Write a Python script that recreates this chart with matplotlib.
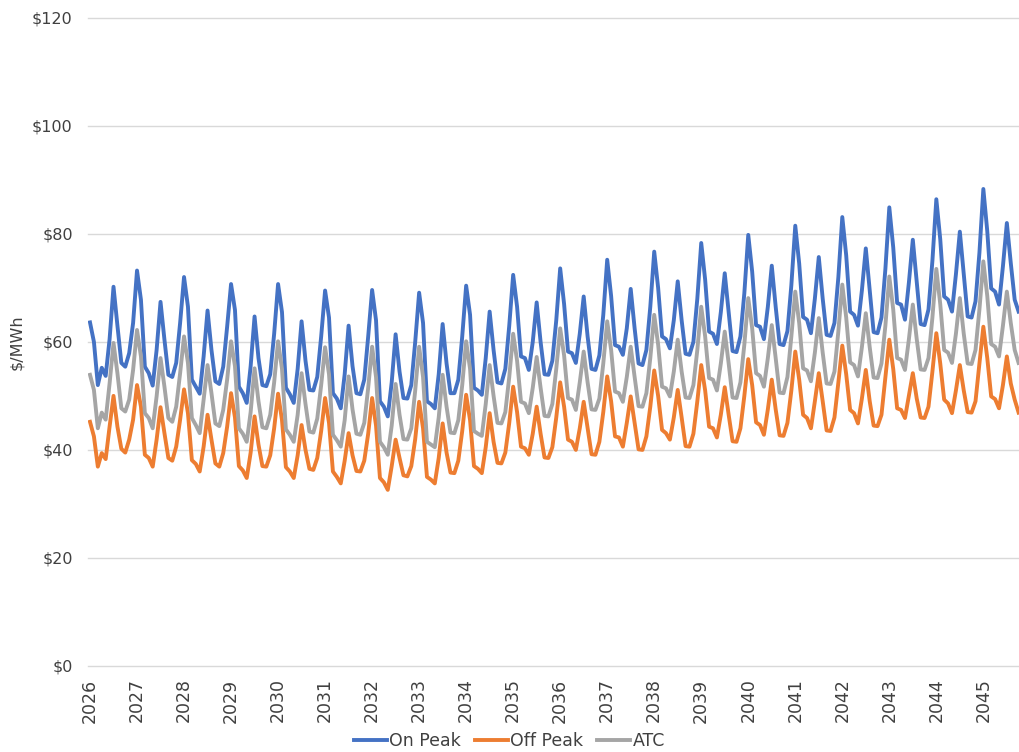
import numpy as np
import matplotlib
matplotlib.use("Agg")
import matplotlib.pyplot as plt

# Monthly price forecast, Jan 2026 - Oct 2045 ($/MWh), one row per year
on_peak = [
    63.6, 60.0, 52.0, 55.2, 53.7, 60.5, 70.2, 63.0, 56.1, 55.4, 57.9, 63.5,  # 2026
    73.2, 67.8, 55.4, 54.2, 51.9, 58.5, 67.4, 60.4, 53.9, 53.5, 56.1, 63.5,  # 2027
    72.0, 66.5, 53.0, 51.7, 50.4, 57.3, 65.8, 58.5, 52.7, 52.2, 55.4, 62.8,  # 2028
    70.7, 65.9, 51.7, 50.5, 48.7, 55.5, 64.7, 57.0, 52.0, 51.8, 54.0, 61.5,  # 2029
    70.7, 65.5, 51.5, 50.3, 48.7, 55.0, 63.8, 56.5, 51.1, 51.0, 53.5, 61.0,  # 2030
    69.5, 64.5, 50.5, 49.5, 47.7, 54.0, 63.0, 55.5, 50.5, 50.3, 53.0, 61.0,  # 2031
    69.6, 64.0, 49.0, 48.0, 46.2, 52.5, 61.4, 54.5, 49.6, 49.5, 52.0, 60.0,  # 2032
    69.1, 63.5, 49.0, 48.5, 47.7, 54.0, 63.3, 56.0, 50.5, 50.5, 53.0, 61.0,  # 2033
    70.4, 65.0, 51.5, 51.0, 50.2, 57.0, 65.6, 58.5, 52.5, 52.3, 55.0, 63.0,  # 2034
    72.4, 66.5, 57.3, 57.0, 54.8, 60.0, 67.3, 60.0, 54.0, 53.9, 56.5, 64.0,  # 2035
    73.6, 67.0, 58.2, 57.9, 56.1, 61.5, 68.4, 61.0, 55.0, 54.8, 57.5, 65.0,  # 2036
    75.2, 68.5, 59.4, 59.1, 57.6, 62.5, 69.8, 62.5, 56.0, 55.7, 58.5, 66.5,  # 2037
    76.7, 70.0, 61.0, 60.5, 58.8, 64.0, 71.2, 64.0, 57.8, 57.6, 60.0, 68.0,  # 2038
    78.3, 71.5, 61.9, 61.5, 59.6, 65.5, 72.7, 65.5, 58.3, 58.1, 61.0, 69.0,  # 2039
    79.8, 73.0, 63.1, 62.8, 60.5, 66.5, 74.1, 66.5, 59.6, 59.4, 62.0, 70.5,  # 2040
    81.5, 74.5, 64.6, 64.1, 61.6, 68.0, 75.7, 68.0, 61.3, 61.1, 63.5, 72.0,  # 2041
    83.1, 76.0, 65.6, 65.0, 63.0, 69.5, 77.3, 69.5, 61.8, 61.6, 64.5, 73.5,  # 2042
    84.9, 77.5, 67.2, 66.9, 64.1, 71.0, 78.9, 71.0, 63.3, 63.1, 66.0, 75.0,  # 2043
    86.4, 79.0, 68.4, 67.8, 65.6, 72.5, 80.4, 72.5, 64.7, 64.5, 67.5, 76.5,  # 2044
    88.3, 80.5, 69.9, 69.3, 66.9, 74.0, 82.0, 74.6, 67.8, 65.6,              # 2045
]

off_peak = [
    45.2, 42.5, 36.9, 39.4, 38.3, 44.3, 50.0, 44.3, 40.2, 39.5, 41.9, 45.6,  # 2026
    52.0, 48.0, 39.1, 38.5, 36.9, 41.9, 47.9, 43.1, 38.5, 38.0, 40.6, 45.6,  # 2027
    51.2, 46.8, 38.1, 37.4, 36.0, 40.6, 46.5, 41.9, 37.5, 36.9, 39.4, 44.3,  # 2028
    50.5, 46.0, 37.0, 36.2, 34.8, 39.5, 46.2, 41.0, 37.0, 36.9, 39.0, 44.0,  # 2029
    50.4, 45.5, 36.8, 36.0, 34.8, 39.0, 44.6, 40.0, 36.5, 36.3, 38.5, 43.5,  # 2030
    49.6, 45.0, 36.0, 35.0, 33.8, 38.0, 43.1, 39.0, 36.1, 36.0, 38.0, 43.0,  # 2031
    49.6, 44.5, 34.8, 34.0, 32.6, 37.0, 41.9, 38.5, 35.3, 35.1, 37.0, 42.0,  # 2032
    48.9, 44.0, 35.0, 34.5, 33.8, 38.5, 44.9, 39.5, 35.8, 35.7, 38.0, 43.5,  # 2033
    50.2, 45.5, 37.0, 36.5, 35.7, 40.5, 46.8, 41.5, 37.6, 37.5, 39.5, 45.0,  # 2034
    51.7, 47.0, 40.6, 40.3, 39.1, 43.0, 48.0, 43.0, 38.6, 38.5, 40.5, 46.0,  # 2035
    52.5, 48.0, 41.9, 41.5, 40.0, 44.0, 48.9, 44.0, 39.2, 39.1, 41.5, 47.0,  # 2036
    53.6, 49.0, 42.5, 42.3, 40.6, 45.0, 49.9, 45.0, 40.1, 40.0, 42.5, 48.0,  # 2037
    54.7, 50.0, 43.7, 43.1, 41.9, 46.0, 51.1, 46.0, 40.7, 40.6, 43.0, 49.0,  # 2038
    55.7, 51.0, 44.3, 44.0, 42.3, 46.5, 51.6, 46.5, 41.6, 41.5, 44.0, 50.0,  # 2039
    56.8, 52.0, 45.1, 44.6, 42.8, 47.5, 53.0, 47.5, 42.7, 42.6, 45.0, 51.0,  # 2040
    58.2, 53.0, 46.5, 45.9, 44.0, 49.0, 54.2, 49.0, 43.6, 43.5, 46.0, 52.5,  # 2041
    59.3, 54.0, 47.4, 46.8, 44.9, 49.5, 54.8, 49.0, 44.5, 44.4, 46.5, 53.5,  # 2042
    60.4, 55.0, 47.7, 47.4, 45.9, 50.0, 54.2, 49.5, 46.0, 45.9, 48.0, 54.5,  # 2043
    61.6, 56.0, 49.3, 48.6, 46.8, 51.0, 55.7, 51.0, 47.0, 46.9, 49.0, 56.0,  # 2044
    62.8, 57.0, 49.9, 49.4, 47.7, 52.0, 57.3, 52.3, 49.3, 46.9,              # 2045
]

atc = [
    53.9, 51.1, 44.0, 46.9, 45.6, 52.3, 59.8, 54.2, 47.7, 47.1, 49.3, 54.8,  # 2026
    62.2, 57.3, 46.8, 45.9, 44.0, 49.9, 57.0, 51.7, 45.9, 45.2, 48.0, 54.2,  # 2027
    61.0, 56.1, 45.9, 44.6, 43.1, 49.3, 55.7, 50.5, 44.9, 44.4, 47.4, 53.0,  # 2028
    60.1, 55.5, 44.0, 43.0, 41.5, 47.0, 55.1, 49.0, 44.2, 44.0, 46.5, 52.5,  # 2029
    60.1, 55.0, 43.8, 42.8, 41.5, 46.5, 54.2, 48.5, 43.4, 43.2, 45.8, 52.0,  # 2030
    59.0, 54.0, 42.8, 41.8, 40.6, 45.5, 53.6, 47.5, 43.0, 42.8, 45.0, 51.5,  # 2031
    59.1, 53.5, 41.5, 40.5, 39.1, 44.5, 52.2, 46.5, 42.0, 41.9, 44.0, 51.0,  # 2032
    59.1, 53.5, 41.5, 41.0, 40.5, 46.0, 53.9, 48.0, 43.2, 43.1, 45.5, 52.0,  # 2033
    60.1, 55.0, 43.5, 43.0, 42.6, 48.5, 55.7, 50.0, 45.0, 44.9, 47.0, 53.5,  # 2034
    61.5, 56.5, 48.9, 48.6, 46.8, 51.5, 57.2, 51.5, 46.3, 46.2, 48.5, 55.0,  # 2035
    62.5, 57.5, 49.6, 49.3, 47.4, 52.5, 58.2, 52.5, 47.5, 47.4, 49.5, 56.0,  # 2036
    63.8, 58.5, 50.8, 50.5, 48.9, 53.5, 59.1, 53.5, 48.1, 48.0, 50.5, 57.0,  # 2037
    65.0, 59.5, 51.7, 51.4, 49.9, 54.5, 60.4, 54.5, 49.7, 49.6, 52.0, 58.5,  # 2038
    66.5, 61.0, 53.3, 53.0, 51.0, 56.0, 61.9, 56.0, 49.7, 49.6, 52.5, 59.5,  # 2039
    68.1, 62.5, 54.2, 53.7, 51.7, 57.0, 63.1, 57.0, 50.6, 50.5, 53.5, 61.0,  # 2040
    69.3, 63.5, 55.1, 54.7, 52.7, 58.0, 64.4, 58.0, 52.3, 52.2, 54.5, 62.0,  # 2041
    70.6, 64.5, 56.2, 55.7, 53.6, 59.0, 65.3, 59.0, 53.4, 53.3, 56.0, 63.0,  # 2042
    72.1, 66.0, 57.0, 56.7, 54.8, 60.5, 66.9, 60.5, 54.9, 54.8, 57.0, 64.5,  # 2043
    73.5, 67.0, 58.5, 58.0, 56.1, 61.5, 68.1, 61.5, 56.0, 55.9, 58.5, 66.0,  # 2044
    74.9, 68.5, 59.6, 59.1, 57.3, 63.0, 69.3, 63.5, 58.5, 56.1,              # 2045
]

years = list(range(2026, 2046))
series_names = ["On Peak", "Off Peak", "ATC"]
series_colors = ["#4472C4", "#ED7D31", "#A5A5A5"]

# ----------------------------
# Figure
# ----------------------------
fig = plt.figure(figsize=(10.19, 7.52), dpi=100)
ax = fig.add_axes([0.0864, 0.1144, 0.9136, 0.862])

months = np.arange(len(on_peak))
for name, values, color in zip(series_names, [on_peak, off_peak, atc], series_colors):
    ax.plot(months, values, color=color, lw=2.8, label=name, solid_joinstyle="round")

ax.set_ylim(0, 120)
ax.set_xlim(-0.5, len(on_peak) - 0.9)
ax.set_yticks(np.arange(0, 121, 20))
ax.set_yticklabels([f"${v}" for v in range(0, 121, 20)])
ax.set_xticks([12 * k for k in range(len(years))])
ax.set_xticklabels([str(y) for y in years], rotation=90)

ax.grid(axis="y", color="#D9D9D9", lw=1)
for gl in ax.get_ygridlines():
    gl.set_clip_on(False)
ax.set_axisbelow(True)
for side in ["top", "right", "left", "bottom"]:
    ax.spines[side].set_visible(False)
ax.tick_params(axis="both", length=0, colors="#404040")
ax.tick_params(axis="x", pad=9, labelsize=12.5)
ax.tick_params(axis="y", pad=11, labelsize=11.5)

ax.set_ylabel("$/MWh", fontsize=11.5, color="#404040", labelpad=6)

leg = fig.legend(loc="lower center", bbox_to_anchor=(0.5, -0.018), ncol=3, frameon=False,
                 handlelength=1.9, columnspacing=0.8, handletextpad=0.15,
                 prop={"size": 12.5})
for t in leg.get_texts():
    t.set_color("#404040")

fig.savefig("out.png", dpi=100)
